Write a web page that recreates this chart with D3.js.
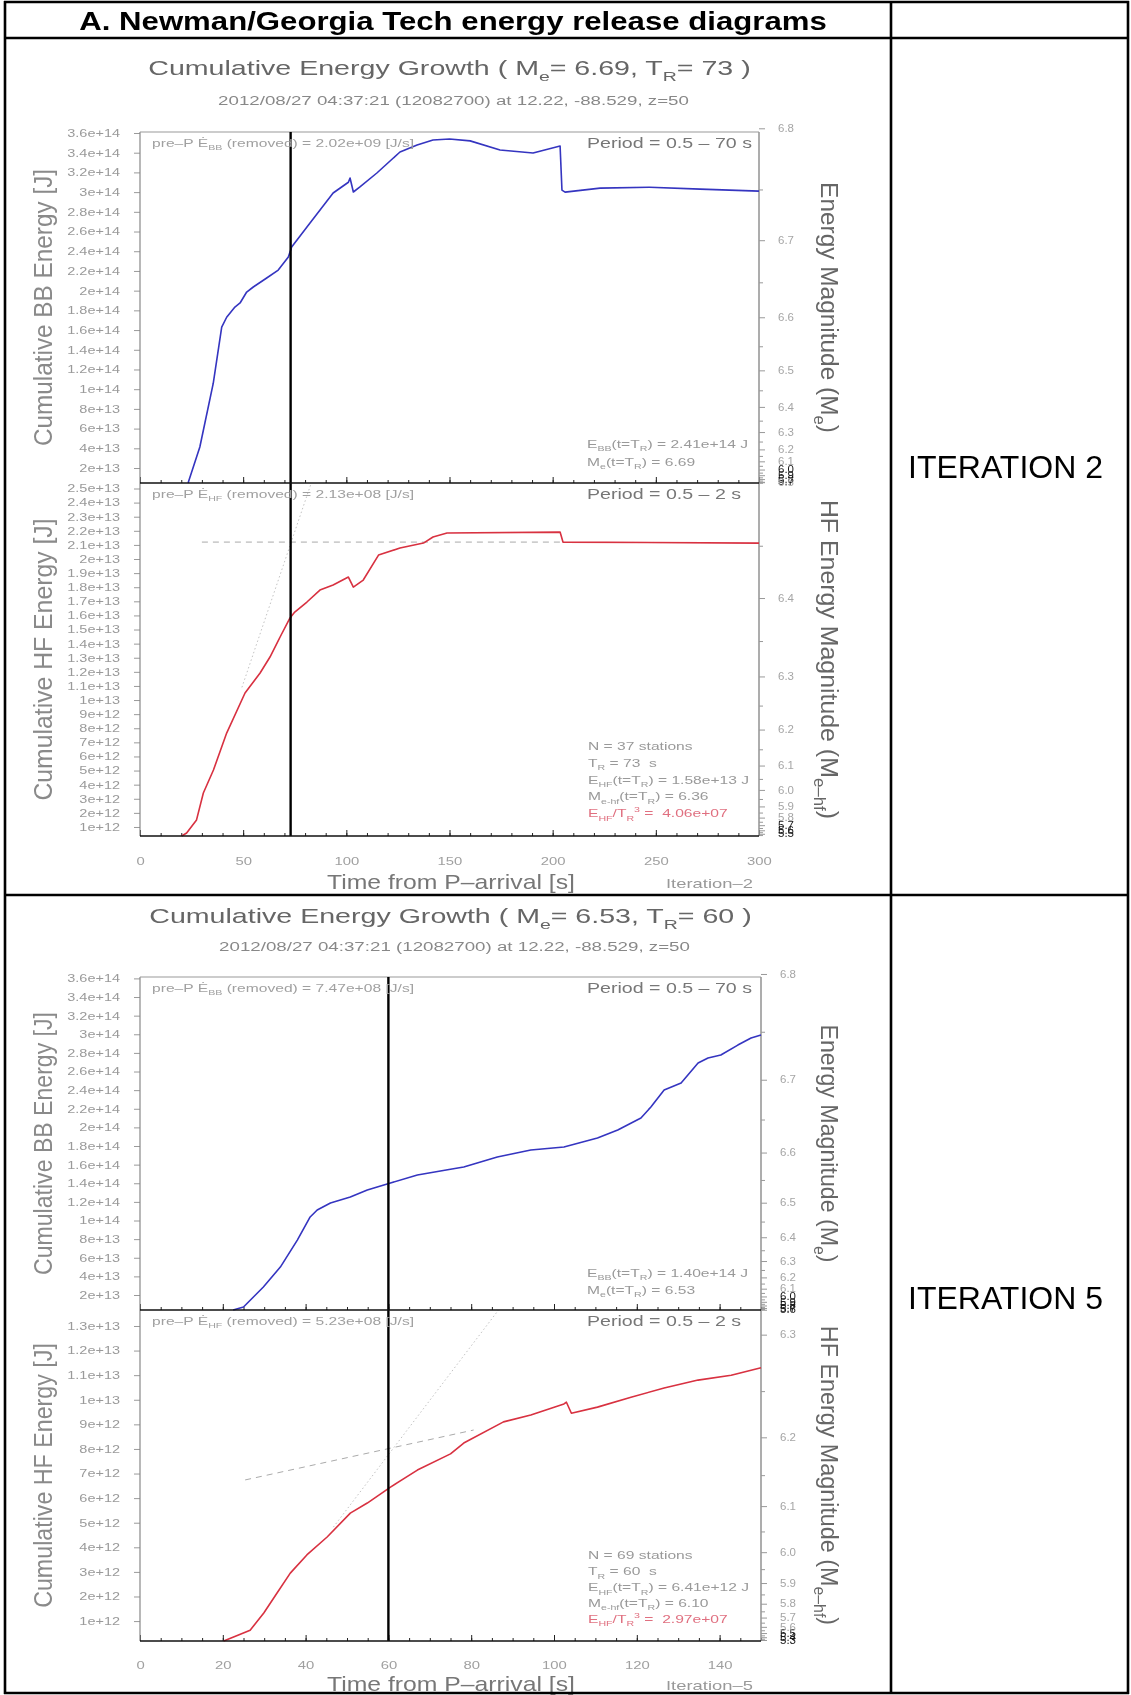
<!DOCTYPE html>
<html>
<head>
<meta charset="utf-8">
<title>Energy release diagrams</title>
<script src="https://cdn.jsdelivr.net/npm/d3@7"></script>
<style>
  body { margin: 0; background: #fff; }
  svg { display: block; }
  text { font-family: "Liberation Sans", Arial, Helvetica, sans-serif; white-space: pre; }
</style>
</head>
<body>
<div id="chart"></div>
<script>
// energies in units of 1e12 J, times in s after P arrival

// iteration 2
var it2BBTime   = [23.3, 29, 35.5, 39.6, 42, 46, 48.5, 51.7, 54.9, 61.4, 67, 71.9, 73.5, 82.4, 93.6, 101, 101.8, 103.4, 106.6, 114.8, 126, 134.3, 142, 150, 160, 174.5, 190.5, 203.6, 204.5, 206, 223, 247, 271.5, 300];
var it2BBEnergy = [4.8, 41.3, 106, 163, 173, 183.4, 187.5, 198.6, 203.7, 212.8, 220.9, 234.1, 244.3, 268.6, 299.1, 310, 314.3, 300.1, 305.2, 319.4, 340.7, 347.8, 352.9, 353.9, 352, 342.7, 339.7, 346.8, 302, 300, 304, 305, 303, 301];
var it2HFTime   = [20.2, 22.6, 27.4, 30.7, 35.6, 42, 50.9, 58.2, 63, 67.9, 72.7, 75, 80.9, 87.2, 93.6, 101, 103.4, 108.2, 115.6, 126, 137.4, 142, 148.8, 203.6, 205, 300];
var it2HFEnergy = [0.36, 0.57, 1.5, 3.41, 5.04, 7.66, 10.5, 11.92, 13.05, 14.47, 15.82, 16.24, 16.95, 17.8, 18.16, 18.72, 18.01, 18.51, 20.28, 20.78, 21.13, 21.56, 21.84, 21.91, 21.2, 21.13];
var it2Plateau  = [[30, 21.2], [205, 21.2]];
var it2Slope    = [[49.4, 10.9], [83, 25.39]];
var it2TR = 73;

// iteration 5
var it5BBTime   = [22.5, 25, 29.8, 33.9, 38, 41.1, 42.8, 46, 50.8, 54.9, 60.5, 67, 75, 78.2, 86.3, 94.4, 102.4, 110.5, 115.4, 121, 123.4, 126.6, 130.7, 134.8, 137.2, 140.3, 144.4, 147.6, 150];
var it5BBEnergy = [3.9, 7.1, 28.6, 50, 79, 103.8, 111.3, 118.8, 125.2, 132.7, 140.3, 148.9, 155, 157.4, 168.2, 175.7, 178.9, 188.6, 197.2, 210, 221.9, 240.1, 247.6, 269.1, 274.5, 277.7, 288.4, 296, 299.2];
var it5HFTime   = [20.2, 22.6, 26.6, 29.9, 33.1, 36.3, 40.3, 45.2, 50.8, 54.9, 60.5, 67, 75, 78.2, 87.8, 94.4, 102.4, 103, 104.2, 110.5, 118.6, 126.6, 134.8, 142.8, 150];
var it5HFEnergy = [0.19, 0.35, 0.63, 1.33, 2.14, 2.95, 3.69, 4.42, 5.39, 5.8, 6.45, 7.14, 7.8, 8.24, 9.1, 9.38, 9.83, 9.9, 9.45, 9.7, 10.1, 10.48, 10.8, 11.0, 11.3];
var it5Plateau  = [[25.4, 6.74], [80.6, 8.77]];
var it5Slope    = [[46.7, 4.82], [86.6, 13.65]];
var it5TR = 60;

// tick values
var bbTicks  = [20, 40, 60, 80, 100, 120, 140, 160, 180, 200, 220, 240, 260, 280, 300, 320, 340, 360];
var hf2Ticks = [1, 2, 3, 4, 5, 6, 7, 8, 9, 10, 11, 12, 13, 14, 15, 16, 17, 18, 19, 20, 21, 22, 23, 24, 25];
var hf5Ticks = [1, 2, 3, 4, 5, 6, 7, 8, 9, 10, 11, 12, 13];
var x2Ticks  = [0, 50, 100, 150, 200, 250, 300];
var x5Ticks  = [0, 20, 40, 60, 80, 100, 120, 140];
var magLabels = [5.3, 5.4, 5.5, 5.6, 5.7, 5.8, 5.9, 6.0, 6.1, 6.2, 6.3, 6.4, 6.5, 6.6, 6.7, 6.8];
var magMinor  = [5.25, 5.35, 5.45, 5.55, 5.65, 5.75, 5.85, 5.95, 6.05, 6.15, 6.25, 6.35, 6.45, 6.55, 6.65, 6.75];

// magnitude <-> energy relation: [slope, M ref, log10 E ref]
var bbMagFit  = [1.62, 6.7, 14.40];
var hf2MagFit = [1.692, 6.2, 12.898];
var hf5MagFit = [1.74, 6.2, 12.928];

function mToE(fit, m) { return Math.pow(10, fit[0] * (m - fit[1]) + fit[2]) / 1e12; }
function eToM(fit, e) { return (Math.log10(e * 1e12) - fit[2]) / fit[0] + fit[1]; }

var W = 1131, H = 1695;
var svg = d3.select("#chart").append("svg").attr("width", W).attr("height", H);
svg.append("rect").attr("width", W).attr("height", H).attr("fill", "#fff");
svg.append("defs").append("filter").attr("id", "soft")
    .attr("x", "-3%").attr("y", "-3%").attr("width", "106%").attr("height", "106%")
  .append("feGaussianBlur").attr("stdDeviation", 0.65);

// text with sub/superscript parts, optionally stretched / rotated
function addText(g, x, y, parts, o) {
  var size = o.size || 11;
  var t = g.append("text")
      .attr("font-size", size)
      .attr("fill", o.fill || "#888")
      .attr("text-anchor", o.anchor || "start");
  if (o.weight) t.attr("font-weight", o.weight);
  var shift = 0;
  (typeof parts === "string" ? [parts] : parts).forEach(function(p) {
    var s = typeof p === "string" ? { t: p } : p;
    var target = s.sub ? size * 0.3 : (s.sup ? -size * 0.45 : 0);
    var ts = t.append("tspan").attr("dy", target - shift).text(s.t);
    if (s.sub || s.sup) ts.attr("font-size", size * 0.68);
    shift = target;
  });
  var sx = o.sx || 1, sy = o.sy || 1;
  if (o.width) sx = o.width / t.node().getComputedTextLength();
  t.attr("transform", "translate(" + x + "," + y + ")" +
      (o.rotate ? " rotate(" + o.rotate + ")" : "") +
      " scale(" + sx + "," + sy + ")");
  return t;
}

function stretchLabels(axisG, sx) {
  axisG.selectAll("text").attr("transform", function() {
    var ax = +this.getAttribute("x") || 0;
    return "translate(" + ax + ",0) scale(" + sx + ",1) translate(" + (-ax) + ",0)";
  });
}

function drawChart(c) {
  var g = svg.append("g").attr("filter", "url(#soft)");
  var vs = c.vs;

  var x = d3.scaleLinear().domain(c.xDomain).range([c.left, c.right]);
  var yBB = d3.scaleLinear().domain(c.bbDomain).range([c.mid, c.top]);
  var yHF = d3.scaleLinear().domain(c.hfDomain).range([c.bottom, c.mid]);
  var fmtE = function(v) { return (v * 1e12).toExponential(); };

  // left energy axes
  [[yBB, c.bbTicks], [yHF, c.hfTicks]].forEach(function(a) {
    var ax = g.append("g")
        .attr("transform", "translate(" + c.left + ",0)")
        .call(d3.axisLeft(a[0]).tickValues(a[1]).tickFormat(fmtE).tickSize(6).tickPadding(14));
    ax.select(".domain").remove();
    ax.selectAll("line").attr("stroke", "#9a9a9a");
    ax.selectAll("text").attr("fill", "#9a9a9a").attr("font-size", 10.5);
    stretchLabels(ax, 1.38);
  });

  // right magnitude axes; labels crowd into a dark smudge near the bottom
  [[yBB, c.bbDomain, c.bbFit], [yHF, c.hfDomain, c.hfFit]].forEach(function(a) {
    var fit = a[2], dom = a[1], sc = a[0];
    var inside = function(m) { var e = mToE(fit, m); return e >= dom[0] && e <= dom[1] * 1.03; };
    var major = magLabels.filter(inside).map(function(m) { return mToE(fit, m); });
    var minor = magMinor.filter(inside).map(function(m) { return mToE(fit, m); });
    var ax = g.append("g")
        .attr("transform", "translate(" + c.right + ",0)")
        .call(d3.axisRight(sc).tickValues(major)
          .tickFormat(function(e) { return eToM(fit, e).toFixed(1); })
          .tickSize(6).tickPadding(13));
    ax.select(".domain").remove();
    ax.selectAll("line").attr("stroke", "#999");
    ax.selectAll("text").attr("font-size", 10).attr("fill", function(e) {
      var gap = Math.abs(sc(e) - sc(mToE(fit, eToM(fit, e) + 0.1)));
      return gap < 9 ? "#1a1a1a" : "#a5a5a5";
    });
    stretchLabels(ax, 1.15);
    var ax2 = g.append("g")
        .attr("transform", "translate(" + c.right + ",0)")
        .call(d3.axisRight(sc).tickValues(minor).tickFormat("").tickSize(4));
    ax2.select(".domain").remove();
    ax2.selectAll("line").attr("stroke", "#999");
  });

  // time axis labels
  var xl = g.append("g")
      .attr("transform", "translate(0," + c.bottom + ")")
      .call(d3.axisBottom(x).tickValues(c.xTicks).tickSize(0).tickPadding(21 * vs));
  xl.select(".domain").remove();
  xl.selectAll("text").attr("fill", "#a0a0a0").attr("font-size", 11);
  stretchLabels(xl, 1.35);

  // inward ticks along the two black time axes
  var minorT = d3.range(c.xDomain[0], c.xDomain[1] + 0.001, c.xMinor);
  [c.mid, c.bottom].forEach(function(yy) {
    var t1 = g.append("g").attr("transform", "translate(0," + yy + ")")
        .call(d3.axisTop(x).tickValues(minorT).tickFormat("").tickSize(3));
    var t2 = g.append("g").attr("transform", "translate(0," + yy + ")")
        .call(d3.axisTop(x).tickValues(c.xTicks).tickFormat("").tickSize(6));
    t1.select(".domain").remove();
    t2.select(".domain").remove();
    t1.selectAll("line").attr("stroke", "#222");
    t2.selectAll("line").attr("stroke", "#222");
  });

  // frame
  g.append("line").attr("x1", c.left).attr("x2", c.left).attr("y1", c.top).attr("y2", c.bottom)
      .attr("stroke", "#888").attr("stroke-width", 1.2);
  g.append("line").attr("x1", c.left).attr("x2", c.right).attr("y1", c.top).attr("y2", c.top)
      .attr("stroke", "#999").attr("stroke-width", 1.2);
  g.append("line").attr("x1", c.right).attr("x2", c.right).attr("y1", c.top).attr("y2", c.bottom)
      .attr("stroke", "#999").attr("stroke-width", 1.6);

  // guide lines
  var guide = d3.line().x(function(d) { return x(d[0]); }).y(function(d) { return yHF(d[1]); });
  g.append("path").attr("d", guide(c.plateau)).attr("fill", "none")
      .attr("stroke", "#aaa").attr("stroke-width", 1).attr("stroke-dasharray", "6,5");
  g.append("path").attr("d", guide(c.slope)).attr("fill", "none")
      .attr("stroke", "#bbb").attr("stroke-width", 0.9).attr("stroke-dasharray", "1.5,2.5");

  // energy curves
  var lineBB = d3.line().x(function(d, i) { return x(c.bbT[i]); }).y(function(d) { return yBB(d); });
  var lineHF = d3.line().x(function(d, i) { return x(c.hfT[i]); }).y(function(d) { return yHF(d); });
  g.append("path").attr("d", lineBB(c.bbE)).attr("fill", "none")
      .attr("stroke", "#3434c0").attr("stroke-width", 1.6).attr("stroke-linejoin", "round");
  g.append("path").attr("d", lineHF(c.hfE)).attr("fill", "none")
      .attr("stroke", "#d83040").attr("stroke-width", 1.6).attr("stroke-linejoin", "round");

  // rupture duration marker
  g.append("line").attr("x1", x(c.tr)).attr("x2", x(c.tr)).attr("y1", c.top).attr("y2", c.bottom)
      .attr("stroke", "#000").attr("stroke-width", 2.4);

  // black time axes
  [c.mid, c.bottom].forEach(function(yy) {
    g.append("line").attr("x1", c.left).attr("x2", c.right).attr("y1", yy).attr("y2", yy)
        .attr("stroke", "#111").attr("stroke-width", 1.7);
  });

  // texts
  var cx = (c.left + c.right) / 2;
  addText(g, cx, c.top - 57 * vs, c.title, { size: 20, fill: "#666", anchor: "middle", sx: 1.43 });
  addText(g, cx + 4, c.top - 27 * vs, c.subtitle, { size: 12, fill: "#888", anchor: "middle", sx: 1.56 });
  addText(g, c.left + 12, c.top + 15, c.bbPreP, { size: 11, fill: "#a0a0a0", sx: 1.42 });
  addText(g, c.left + 12, c.mid + 15, c.hfPreP, { size: 11, fill: "#a0a0a0", sx: 1.42 });
  addText(g, 587, c.top + 16, c.bbPeriod, { size: 14, fill: "#777", sx: 1.4 });
  addText(g, 587, c.mid + 16, c.hfPeriod, { size: 14, fill: "#777", sx: 1.4 });
  c.bbNotes.forEach(function(n, i) {
    addText(g, 587, c.mid - 35 * vs + i * 18 * vs, n, { size: 11, fill: "#999", sx: 1.42 });
  });
  c.hfNotes.forEach(function(n, i) {
    addText(g, 588, c.bottom - 86 * vs + i * 16.8 * vs, n,
      { size: 11, fill: i === 4 ? "#e07080" : "#999", sx: 1.42 });
  });

  var hTop = c.mid - c.top, hBot = c.bottom - c.mid;
  addText(g, 52, (c.top + c.mid) / 2, c.bbLeftTitle,
    { size: 20, fill: "#8a8a8a", anchor: "middle", rotate: -90, width: 0.79 * hTop, sy: 1.25 });
  addText(g, 52, (c.bottom + c.mid) / 2, c.hfLeftTitle,
    { size: 20, fill: "#8a8a8a", anchor: "middle", rotate: -90, width: 0.80 * hBot, sy: 1.25 });
  addText(g, 821, (c.top + c.mid) / 2, c.bbRightTitle,
    { size: 20, fill: "#666", anchor: "middle", rotate: 90, width: 0.715 * hTop, sy: 1.2 });
  addText(g, 821, (c.bottom + c.mid) / 2, c.hfRightTitle,
    { size: 20, fill: "#666", anchor: "middle", rotate: 90, width: 0.905 * hBot, sy: 1.2 });

  addText(g, 451, c.bottom + 53 * vs, "Time from P\u2013arrival [s]",
    { size: 21, fill: "#777", anchor: "middle", width: 248 });
  addText(g, 666, c.bottom + 52 * vs, c.iterLabel, { size: 12, fill: "#999", width: 87 });
}

var sub = function(s) { return { t: s, sub: 1 }; };
var sup = function(s) { return { t: s, sup: 1 }; };
var subtitleText = "2012/08/27 04:37:21 (12082700) at 12.22, -88.529, z=50";

drawChart({
  top: 132, mid: 483, bottom: 836, left: 140, right: 759, vs: 1,
  xDomain: [0, 300], xTicks: x2Ticks, xMinor: 10,
  bbDomain: [4.8, 361], hfDomain: [0.36, 25.39],
  bbTicks: bbTicks, hfTicks: hf2Ticks, bbFit: bbMagFit, hfFit: hf2MagFit,
  bbT: it2BBTime, bbE: it2BBEnergy, hfT: it2HFTime, hfE: it2HFEnergy,
  plateau: it2Plateau, slope: it2Slope, tr: it2TR,
  title: ["Cumulative Energy Growth ( M", sub("e"), "= 6.69, T", sub("R"), "= 73 )"],
  subtitle: subtitleText,
  bbPreP: ["pre\u2013P \u0116", sub("BB"), " (removed) = 2.02e+09 [J/s]"],
  hfPreP: ["pre\u2013P \u0116", sub("HF"), " (removed) = 2.13e+08 [J/s]"],
  bbPeriod: "Period = 0.5 \u2013 70 s",
  hfPeriod: "Period = 0.5 \u2013 2 s",
  bbNotes: [["E", sub("BB"), "(t=T", sub("R"), ") = 2.41e+14 J"], ["M", sub("e"), "(t=T", sub("R"), ") = 6.69"]],
  hfNotes: ["N = 37 stations", ["T", sub("R"), " = 73  s"], ["E", sub("HF"), "(t=T", sub("R"), ") = 1.58e+13 J"],
            ["M", sub("e-hf"), "(t=T", sub("R"), ") = 6.36"], ["E", sub("HF"), "/T", sub("R"), sup("3"), " =  4.06e+07"]],
  bbLeftTitle: "Cumulative BB Energy [J]", hfLeftTitle: "Cumulative HF Energy [J]",
  bbRightTitle: ["Energy Magnitude (M", sub("e"), ")"],
  hfRightTitle: ["HF Energy Magnitude (M", sub("e\u2013hf"), ")"],
  iterLabel: "Iteration\u20132"
});

drawChart({
  top: 977, mid: 1310, bottom: 1641, left: 140, right: 761, vs: 0.95,
  xDomain: [0, 150], xTicks: x5Ticks, xMinor: 5,
  bbDomain: [3.9, 361.5], hfDomain: [0.19, 13.65],
  bbTicks: bbTicks, hfTicks: hf5Ticks, bbFit: bbMagFit, hfFit: hf5MagFit,
  bbT: it5BBTime, bbE: it5BBEnergy, hfT: it5HFTime, hfE: it5HFEnergy,
  plateau: it5Plateau, slope: it5Slope, tr: it5TR,
  title: ["Cumulative Energy Growth ( M", sub("e"), "= 6.53, T", sub("R"), "= 60 )"],
  subtitle: subtitleText,
  bbPreP: ["pre\u2013P \u0116", sub("BB"), " (removed) = 7.47e+08 [J/s]"],
  hfPreP: ["pre\u2013P \u0116", sub("HF"), " (removed) = 5.23e+08 [J/s]"],
  bbPeriod: "Period = 0.5 \u2013 70 s",
  hfPeriod: "Period = 0.5 \u2013 2 s",
  bbNotes: [["E", sub("BB"), "(t=T", sub("R"), ") = 1.40e+14 J"], ["M", sub("e"), "(t=T", sub("R"), ") = 6.53"]],
  hfNotes: ["N = 69 stations", ["T", sub("R"), " = 60  s"], ["E", sub("HF"), "(t=T", sub("R"), ") = 6.41e+12 J"],
            ["M", sub("e-hf"), "(t=T", sub("R"), ") = 6.10"], ["E", sub("HF"), "/T", sub("R"), sup("3"), " =  2.97e+07"]],
  bbLeftTitle: "Cumulative BB Energy [J]", hfLeftTitle: "Cumulative HF Energy [J]",
  bbRightTitle: ["Energy Magnitude (M", sub("e"), ")"],
  hfRightTitle: ["HF Energy Magnitude (M", sub("e\u2013hf"), ")"],
  iterLabel: "Iteration\u20135"
});

// table grid
var grid = svg.append("g").attr("stroke", "#000").attr("stroke-width", 2.6);
[[4, 2, 1129, 2], [4, 38, 1129, 38], [4, 895, 1129, 895], [4, 1693, 1129, 1693],
 [5, 1, 5, 1694], [891, 1, 891, 1694], [1128, 1, 1128, 1694]].forEach(function(l) {
  grid.append("line").attr("x1", l[0]).attr("y1", l[1]).attr("x2", l[2]).attr("y2", l[3]);
});

addText(svg, 453, 30, "A. Newman/Georgia Tech energy release diagrams",
  { size: 26, fill: "#000", anchor: "middle", weight: "bold", width: 748 });
addText(svg, 908, 478, "ITERATION 2", { size: 32, fill: "#000" });
addText(svg, 908, 1309, "ITERATION 5", { size: 32, fill: "#000" });
</script>
</body>
</html>
